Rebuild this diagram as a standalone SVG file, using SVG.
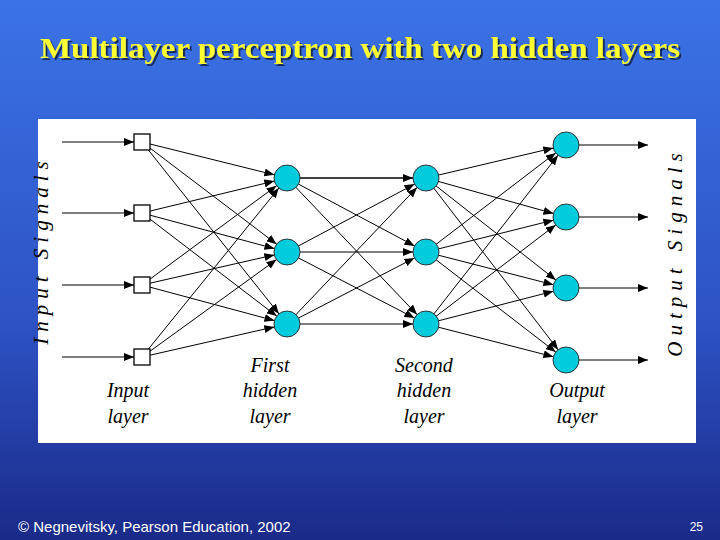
<svg xmlns="http://www.w3.org/2000/svg" width="720" height="540" viewBox="0 0 720 540">
<defs>
<linearGradient id="bg" x1="0" y1="0" x2="0" y2="1">
<stop offset="0" stop-color="#3b73e6"/><stop offset="0.6" stop-color="#2d52c4"/><stop offset="1" stop-color="#1a2a88"/>
</linearGradient>
<filter id="sh" x="-5%" y="-20%" width="110%" height="150%"><feDropShadow dx="2" dy="2" stdDeviation="0.5" flood-color="#000" flood-opacity="0.6"/></filter>
<marker id="a0" markerUnits="userSpaceOnUse" viewBox="0 0 10 8" refX="10" refY="4" markerWidth="10" markerHeight="8" orient="auto"><path d="M0,0 L10,4 L0,8 z" fill="#000"/></marker>
<marker id="a1" markerUnits="userSpaceOnUse" viewBox="0 0 24 8" refX="23" refY="4" markerWidth="24" markerHeight="8" orient="auto"><path d="M0,0 L10,4 L0,8 z" fill="#000"/></marker>
</defs>
<style>
.c line{stroke:#000;stroke-width:1}
.c .e{marker-end:url(#a1)}
.c .i{marker-end:url(#a0)}
.n circle{fill:#00ccdd;stroke:#333;stroke-width:1}
.n rect{fill:#fff;stroke:#000;stroke-width:1.3}
.lab{font-family:"Liberation Serif",serif;font-style:italic;font-size:20px;fill:#000;text-anchor:middle}
.vs{font-family:"Liberation Serif",serif;font-style:italic;font-size:21px;fill:#000;letter-spacing:6px;text-anchor:middle}
</style>
<rect width="720" height="540" fill="url(#bg)"/>
<text x="360" y="58" font-family="Liberation Serif,serif" font-weight="bold" font-size="30" fill="#ffff33" text-anchor="middle" textLength="640" lengthAdjust="spacingAndGlyphs" filter="url(#sh)">Multilayer perceptron with two hidden layers</text>
<rect x="38" y="119" width="658" height="324" fill="#fff"/>
<g class="c">
<line class="i" x1="62" y1="142" x2="134" y2="142"/>
<line class="i" x1="62" y1="213" x2="134" y2="213"/>
<line class="i" x1="62" y1="285" x2="134" y2="285"/>
<line class="i" x1="62" y1="357" x2="134" y2="357"/>
<line class="e" x1="142" y1="142" x2="287" y2="178"/><line class="e" x1="142" y1="142" x2="287" y2="252"/><line class="e" x1="142" y1="142" x2="287" y2="324"/>
<line class="e" x1="142" y1="213" x2="287" y2="178"/><line class="e" x1="142" y1="213" x2="287" y2="252"/><line class="e" x1="142" y1="213" x2="287" y2="324"/>
<line class="e" x1="142" y1="285" x2="287" y2="178"/><line class="e" x1="142" y1="285" x2="287" y2="252"/><line class="e" x1="142" y1="285" x2="287" y2="324"/>
<line class="e" x1="142" y1="357" x2="287" y2="178"/><line class="e" x1="142" y1="357" x2="287" y2="252"/><line class="e" x1="142" y1="357" x2="287" y2="324"/>
<line class="e" x1="287" y1="178" x2="426" y2="178" style="stroke-width:1.6"/><line class="e" x1="287" y1="178" x2="426" y2="252"/><line class="e" x1="287" y1="178" x2="426" y2="324"/>
<line class="e" x1="287" y1="252" x2="426" y2="178"/><line class="e" x1="287" y1="252" x2="426" y2="252"/><line class="e" x1="287" y1="252" x2="426" y2="324"/>
<line class="e" x1="287" y1="324" x2="426" y2="178"/><line class="e" x1="287" y1="324" x2="426" y2="252"/><line class="e" x1="287" y1="324" x2="426" y2="324"/>
<line class="e" x1="426" y1="178" x2="566" y2="145"/><line class="e" x1="426" y1="178" x2="566" y2="217"/><line class="e" x1="426" y1="178" x2="566" y2="288"/><line class="e" x1="426" y1="178" x2="566" y2="360"/>
<line class="e" x1="426" y1="252" x2="566" y2="145"/><line class="e" x1="426" y1="252" x2="566" y2="217"/><line class="e" x1="426" y1="252" x2="566" y2="288"/><line class="e" x1="426" y1="252" x2="566" y2="360"/>
<line class="e" x1="426" y1="324" x2="566" y2="145"/><line class="e" x1="426" y1="324" x2="566" y2="217"/><line class="e" x1="426" y1="324" x2="566" y2="288"/><line class="e" x1="426" y1="324" x2="566" y2="360"/>
<line class="i" x1="566" y1="145" x2="648" y2="145"/>
<line class="i" x1="566" y1="217" x2="648" y2="217"/>
<line class="i" x1="566" y1="288" x2="648" y2="288"/>
<line class="i" x1="566" y1="360" x2="648" y2="360"/>
</g>
<g class="n">
<g id="in1"><rect x="134" y="134" width="16" height="16"/></g>
<g id="in2"><rect x="134" y="205" width="16" height="16"/></g>
<g id="in3"><rect x="134" y="277" width="16" height="16"/></g>
<g id="in4"><rect x="134" y="349" width="16" height="16"/></g>
<g id="h1a"><circle cx="287" cy="178" r="13"/></g>
<g id="h1b"><circle cx="287" cy="252" r="13"/></g>
<g id="h1c"><circle cx="287" cy="324" r="13"/></g>
<g id="h2a"><circle cx="426" cy="178" r="13"/></g>
<g id="h2b"><circle cx="426" cy="252" r="13"/></g>
<g id="h2c"><circle cx="426" cy="324" r="13"/></g>
<g id="o1"><circle cx="566" cy="145" r="13"/></g>
<g id="o2"><circle cx="566" cy="217" r="13"/></g>
<g id="o3"><circle cx="566" cy="288" r="13"/></g>
<g id="o4"><circle cx="566" cy="360" r="13"/></g>
</g>
<text class="lab" x="128" y="397">Input</text><text class="lab" x="128" y="423">layer</text>
<text class="lab" x="270" y="372">First</text><text class="lab" x="270" y="397">hidden</text><text class="lab" x="270" y="423">layer</text>
<text class="lab" x="424" y="372">Second</text><text class="lab" x="424" y="397">hidden</text><text class="lab" x="424" y="423">layer</text>
<text class="lab" x="577" y="397">Output</text><text class="lab" x="577" y="423">layer</text>
<text class="vs" transform="translate(48,250) rotate(-90)">Input Signals</text>
<text class="vs" transform="translate(682,252) rotate(-90)">Output Signals</text>
<text x="18" y="532" font-family="Liberation Sans,sans-serif" font-size="15" fill="#fff">© Negnevitsky, Pearson Education, 2002</text>
<text x="703" y="531" font-family="Liberation Sans,sans-serif" font-size="12" fill="#fff" text-anchor="end">25</text>
</svg>
